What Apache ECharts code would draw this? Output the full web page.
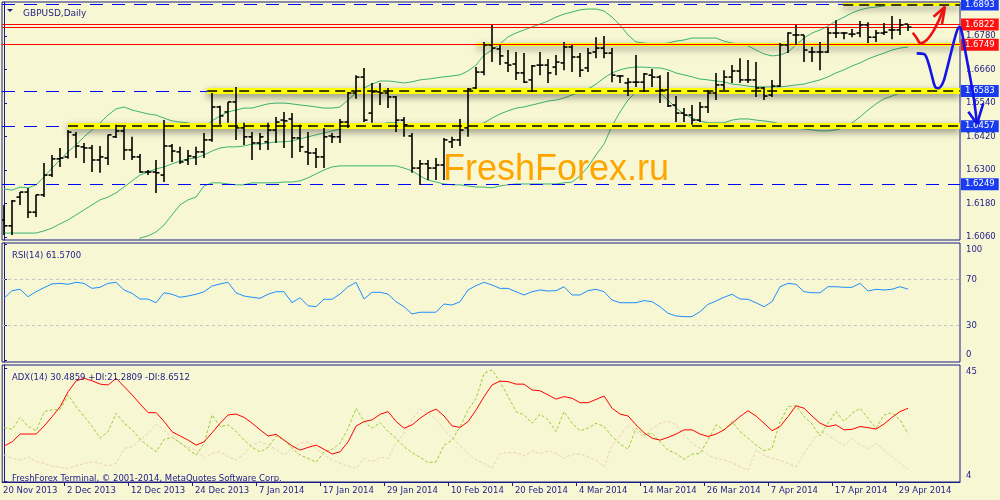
<!DOCTYPE html>
<html><head><meta charset="utf-8">
<script src="https://cdn.jsdelivr.net/npm/echarts@6/dist/echarts.min.js"></script>
<style>html,body{margin:0;padding:0;background:#F7F7D3;}#c{width:1000px;height:500px;}</style>
</head><body><div id="c"></div>
<script>
// ---------- data ----------
const xLabels = ['20 Nov 2013','2 Dec 2013','12 Dec 2013','24 Dec 2013','7 Jan 2014','17 Jan 2014','29 Jan 2014','10 Feb 2014','20 Feb 2014','4 Mar 2014','14 Mar 2014','26 Mar 2014','7 Apr 2014','17 Apr 2014','29 Apr 2014'];
const xLabelIdx = [0,8,16,24,32,40,48,56,64,72,80,88,96,104,112];

const open = [1.6121,1.6100,1.6203,1.6221,1.6149,1.6211,1.6282,1.6340,1.6347,1.6426,
1.6383,1.6379,1.6336,1.6343,1.6419,1.6440,1.6372,1.6347,1.6293,1.6293,
1.6282,1.6386,1.6365,1.6336,1.6347,1.6365,1.6408,1.6526,1.6508,1.6544,
1.6451,1.6419,1.6397,1.6401,1.6443,1.6479,1.6483,1.6415,1.6365,1.6361,
1.6347,1.6422,1.6419,1.6472,1.6576,1.6633,1.6504,1.6580,1.6576,1.6562,
1.6479,1.6422,1.6307,1.6322,1.6307,1.6318,1.6401,1.6408,1.6451,1.6594,
1.6651,1.6748,1.6734,1.6684,1.6680,1.6648,1.6623,1.6676,1.6676,1.6669,
1.6684,1.6741,1.6705,1.6666,1.6723,1.6737,1.6719,1.6637,1.6612,1.6615,
1.6615,1.6640,1.6633,1.6587,1.6533,1.6504,1.6497,1.6479,1.6526,1.6576,
1.6605,1.6633,1.6655,1.6623,1.6623,1.6594,1.6569,1.6601,1.6748,1.6784,
1.6784,1.6723,1.6723,1.6723,1.6791,1.6791,1.6787,1.6791,1.6820,1.6776,
1.6791,1.6802,1.6802,1.6823];
const high = [1.6175,1.6193,1.6221,1.6236,1.6211,1.6325,1.6354,1.6379,1.6443,1.6436,
1.6397,1.6390,1.6386,1.6426,1.6462,1.6454,1.6419,1.6357,1.6300,1.6336,
1.6479,1.6393,1.6383,1.6372,1.6383,1.6433,1.6576,1.6530,1.6544,1.6598,
1.6469,1.6436,1.6433,1.6469,1.6490,1.6508,1.6504,1.6462,1.6436,1.6379,
1.6451,1.6433,1.6483,1.6580,1.6640,1.6666,1.6612,1.6612,1.6594,1.6565,
1.6490,1.6433,1.6336,1.6336,1.6343,1.6415,1.6419,1.6483,1.6594,1.6669,
1.6759,1.6820,1.6748,1.6730,1.6723,1.6719,1.6676,1.6723,1.6698,1.6712,
1.6759,1.6748,1.6719,1.6737,1.6776,1.6780,1.6737,1.6640,1.6630,1.6712,
1.6648,1.6662,1.6640,1.6651,1.6565,1.6522,1.6533,1.6544,1.6587,1.6648,
1.6658,1.6676,1.6701,1.6694,1.6687,1.6598,1.6623,1.6755,1.6794,1.6820,
1.6784,1.6741,1.6759,1.6812,1.6837,1.6794,1.6805,1.6834,1.6830,1.6802,
1.6827,1.6852,1.6841,1.6823];
const low = [1.6067,1.6067,1.6175,1.6128,1.6132,1.6203,1.6275,1.6311,1.6340,1.6343,
1.6325,1.6293,1.6290,1.6318,1.6415,1.6336,1.6336,1.6290,1.6282,1.6218,
1.6257,1.6329,1.6322,1.6318,1.6318,1.6343,1.6401,1.6462,1.6469,1.6408,
1.6390,1.6336,1.6372,1.6372,1.6397,1.6379,1.6343,1.6365,1.6318,1.6307,
1.6307,1.6397,1.6397,1.6451,1.6555,1.6472,1.6469,1.6533,1.6522,1.6436,
1.6419,1.6290,1.6246,1.6264,1.6264,1.6264,1.6379,1.6386,1.6419,1.6590,
1.6640,1.6687,1.6676,1.6651,1.6623,1.6612,1.6580,1.6640,1.6612,1.6640,
1.6658,1.6651,1.6633,1.6651,1.6701,1.6701,1.6615,1.6612,1.6565,1.6598,
1.6580,1.6598,1.6540,1.6526,1.6472,1.6472,1.6462,1.6472,1.6504,1.6551,
1.6587,1.6612,1.6612,1.6612,1.6562,1.6551,1.6562,1.6598,1.6719,1.6748,
1.6687,1.6687,1.6658,1.6719,1.6773,1.6769,1.6776,1.6776,1.6755,1.6759,
1.6784,1.6769,1.6784,1.6798];
const close = [1.6100,1.6189,1.6221,1.6149,1.6211,1.6282,1.6340,1.6343,1.6436,1.6386,
1.6379,1.6336,1.6347,1.6426,1.6440,1.6372,1.6347,1.6293,1.6293,1.6290,
1.6386,1.6368,1.6329,1.6350,1.6365,1.6408,1.6526,1.6494,1.6544,1.6451,
1.6419,1.6397,1.6419,1.6443,1.6472,1.6476,1.6415,1.6383,1.6361,1.6347,
1.6419,1.6419,1.6472,1.6576,1.6633,1.6479,1.6580,1.6576,1.6562,1.6479,
1.6462,1.6307,1.6322,1.6307,1.6318,1.6408,1.6408,1.6443,1.6590,1.6651,
1.6748,1.6737,1.6709,1.6676,1.6648,1.6615,1.6673,1.6676,1.6648,1.6687,
1.6741,1.6705,1.6658,1.6719,1.6737,1.6719,1.6640,1.6637,1.6615,1.6615,
1.6644,1.6633,1.6587,1.6530,1.6504,1.6497,1.6479,1.6526,1.6576,1.6605,
1.6633,1.6655,1.6623,1.6623,1.6594,1.6565,1.6601,1.6748,1.6791,1.6784,
1.6730,1.6723,1.6723,1.6791,1.6791,1.6791,1.6787,1.6820,1.6776,1.6791,
1.6794,1.6802,1.6820,1.6812];

const bbUpper = [1.6232,1.6228,1.6239,1.6236,1.6247,1.6275,1.6307,1.6336,1.6365,1.6390,
1.6419,1.6444,1.6469,1.6497,1.6519,1.6526,1.6515,1.6508,1.6501,1.6497,
1.6486,1.6476,1.6472,1.6469,1.6461,1.6454,1.6476,1.6494,1.6508,1.6515,
1.6522,1.6522,1.6530,1.6537,1.6540,1.6540,1.6537,1.6533,1.6530,1.6526,
1.6522,1.6522,1.6526,1.6551,1.6576,1.6594,1.6608,1.6619,1.6619,1.6616,
1.6612,1.6616,1.6623,1.6626,1.6630,1.6634,1.6637,1.6641,1.6655,1.6676,
1.6712,1.6730,1.6752,1.6777,1.6791,1.6802,1.6813,1.6823,1.6834,1.6848,
1.6859,1.6866,1.6874,1.6877,1.6877,1.6870,1.6848,1.6820,1.6784,1.6759,
1.6755,1.6752,1.6752,1.6755,1.6762,1.6766,1.6773,1.6773,1.6773,1.6773,
1.6762,1.6755,1.6752,1.6745,1.6730,1.6716,1.6709,1.6712,1.6723,1.6748,
1.6773,1.6791,1.6802,1.6816,1.6834,1.6848,1.6863,1.6874,1.6881,1.6884,
1.6888,1.6892,1.6895,1.6899];
const bbMid = [1.6074,1.6074,1.6074,1.6074,1.6074,1.6082,1.6092,1.6107,1.6121,1.6139,
1.6157,1.6175,1.6193,1.6203,1.6218,1.6239,1.6261,1.6282,1.6293,1.6304,
1.6311,1.6322,1.6332,1.6340,1.6343,1.6354,1.6368,1.6379,1.6383,1.6383,
1.6386,1.6393,1.6393,1.6397,1.6401,1.6401,1.6404,1.6412,1.6419,1.6426,
1.6433,1.6440,1.6447,1.6451,1.6454,1.6458,1.6461,1.6465,1.6469,1.6469,
1.6465,1.6461,1.6458,1.6454,1.6451,1.6451,1.6451,1.6454,1.6458,1.6461,
1.6469,1.6486,1.6501,1.6512,1.6522,1.6526,1.6533,1.6540,1.6547,1.6551,
1.6558,1.6569,1.6580,1.6590,1.6608,1.6630,1.6648,1.6659,1.6666,1.6669,
1.6669,1.6666,1.6666,1.6659,1.6648,1.6641,1.6634,1.6626,1.6623,1.6619,
1.6616,1.6608,1.6605,1.6601,1.6598,1.6598,1.6598,1.6598,1.6601,1.6605,
1.6608,1.6616,1.6623,1.6634,1.6648,1.6659,1.6673,1.6684,1.6698,1.6709,
1.6719,1.6730,1.6737,1.6741];
const bbLower = [1.5917,1.5920,1.5910,1.5913,1.5902,1.5888,1.5877,1.5877,1.5877,1.5888,
1.5895,1.5906,1.5917,1.5910,1.5917,1.5953,1.6006,1.6056,1.6064,1.6078,
1.6103,1.6139,1.6175,1.6193,1.6203,1.6243,1.6254,1.6254,1.6250,1.6247,
1.6247,1.6254,1.6254,1.6254,1.6254,1.6257,1.6257,1.6261,1.6272,1.6286,
1.6300,1.6311,1.6315,1.6315,1.6315,1.6315,1.6315,1.6315,1.6315,1.6315,
1.6307,1.6297,1.6279,1.6264,1.6257,1.6250,1.6247,1.6247,1.6243,1.6239,
1.6239,1.6236,1.6243,1.6247,1.6250,1.6250,1.6250,1.6250,1.6250,1.6250,
1.6254,1.6257,1.6279,1.6311,1.6354,1.6393,1.6458,1.6508,1.6551,1.6580,
1.6587,1.6583,1.6576,1.6551,1.6522,1.6501,1.6486,1.6476,1.6469,1.6469,
1.6469,1.6479,1.6483,1.6483,1.6479,1.6476,1.6472,1.6465,1.6458,1.6451,
1.6447,1.6444,1.6440,1.6440,1.6444,1.6451,1.6469,1.6490,1.6515,1.6537,
1.6555,1.6565,1.6576,1.6580];

const rsi = [53.6,60.2,61.4,55.0,59.3,62.8,66.0,66.5,65.7,67.4,
66.5,62.2,63.1,66.5,67.4,60.8,57.9,53.0,53.0,49.8,
58.4,57.1,54.5,55.6,57.1,59.3,64.2,66.0,67.4,58.4,
55.6,54.5,53.6,57.1,59.3,59.3,49.8,54.1,47.2,46.4,
52.8,52.8,57.3,63.6,67.4,53.0,58.8,58.8,57.3,50.7,
46.4,40.1,41.6,41.6,41.6,48.7,47.8,50.7,60.8,64.5,
67.4,65.1,62.2,62.2,59.3,56.5,59.3,60.8,59.9,60.2,
63.6,56.5,56.5,60.2,61.4,59.3,52.2,49.8,49.8,49.8,
51.6,50.7,46.4,40.7,38.4,37.8,37.8,42.1,48.4,51.3,
54.5,57.1,53.0,52.8,49.8,46.4,50.7,63.6,66.5,65.7,
59.3,58.4,58.4,63.6,63.6,63.1,63.1,66.5,59.9,61.4,
60.8,61.4,63.6,61.57];

const adx = [16.9,18.4,21.2,21.2,21.2,24.1,27.5,31.1,36.5,40.4,
41.3,40.4,39.2,38.9,41.3,38.3,35.3,32.0,28.9,28.9,
25.7,22.0,20.5,19.0,17.2,18.4,21.7,25.1,28.1,28.4,
27.2,25.1,22.7,20.5,21.1,19.0,16.9,15.4,16.4,17.2,
15.7,14.0,14.8,18.4,24.1,25.7,26.3,28.3,29.3,25.7,
23.3,24.5,26.9,28.9,30.2,27.7,24.1,23.6,25.7,29.9,
34.7,38.9,40.3,40.1,39.2,39.2,37.1,36.8,35.3,33.8,
34.7,34.1,32.5,32.5,33.7,34.9,30.5,28.4,27.7,24.5,
21.7,19.7,19.0,20.0,21.2,22.7,22.7,21.2,20.3,21.2,
22.7,25.1,27.5,29.6,27.7,25.1,22.4,23.9,27.5,31.4,
30.5,27.7,25.1,23.9,24.5,22.7,22.9,23.9,23.5,23.0,
24.8,27.2,29.3,30.4859];
const plusDI = [23.6,22.9,27.2,23.9,22.4,29.3,29.9,30.1,35.3,31.1,
27.5,23.9,19.7,22.1,28.7,25.1,22.7,19.3,16.9,14.8,
19.3,20.0,18.1,15.7,13.6,17.9,28.1,23.9,24.5,22.1,
19.0,16.4,14.8,16.4,20.5,19.0,16.0,13.6,12.4,11.0,
14.8,15.7,17.9,23.3,30.5,25.7,23.3,25.3,22.1,19.7,
16.6,14.5,12.8,10.9,11.2,17.2,19.0,23.9,29.9,34.1,
43.1,44.3,40.0,34.7,29.3,28.1,25.1,28.4,26.3,22.1,
29.3,25.1,22.4,23.3,25.1,23.9,20.3,17.6,15.7,23.3,
20.9,21.5,18.4,15.4,14.2,12.1,14.0,14.2,19.1,24.5,
22.7,25.7,22.1,19.7,17.2,15.2,16.0,25.7,31.1,31.4,
27.5,24.8,20.5,25.1,29.3,25.7,28.7,30.5,26.9,23.3,
28.1,28.9,26.3,21.2809];
const minusDI = [13.6,12.4,11.8,13.0,11.2,10.6,9.7,9.2,8.8,9.7,
10.6,11.2,10.6,9.7,10.6,16.0,16.6,19.0,21.5,24.8,
22.7,20.0,17.9,16.4,15.4,12.4,14.2,14.8,13.0,11.8,
14.2,17.2,18.4,17.2,15.7,13.6,16.0,17.9,18.4,16.0,
13.6,11.8,10.6,9.7,8.8,12.4,11.2,12.8,12.4,17.9,
21.5,26.5,30.1,28.7,26.5,22.7,20.0,16.9,14.2,11.8,
10.6,8.8,14.1,14.5,14.5,13.3,15.2,14.0,15.2,14.2,
12.4,13.9,14.0,13.0,11.8,9.4,17.2,20.5,24.5,22.1,
20.0,23.3,25.1,25.9,24.5,20.9,17.9,16.0,13.6,12.4,
11.8,10.9,9.4,8.2,15.4,13.6,12.4,11.8,10.6,9.4,
14.2,18.4,22.1,20.9,18.8,17.2,19.7,17.2,16.0,17.9,
15.4,13.0,10.6,8.6512];

const priceTicks = [1.6060,1.6180,1.6300,1.6420,1.6540,1.6660,1.6780];
const rsiTicks = [0,30,70,100];
const rsiLevels = [70,30];
const adxTicks = [4,45];
const blueLevels = [1.6893,1.6583,1.6457,1.6249];
const redLevels = [1.6822,1.6749];
const redLevelPlain = [1.6811];
const bandLevels = [1.6893,1.6749,1.6583,1.6457];
const bandStart = [104.9,59.1,25.4,8.0];
const dashOnBand = [1.6893,1.6583,1.6457];
const redArrowPath = [[113.59,1.6792],[114.0,1.6777],[114.59,1.6754],[115.34,1.6766],[116.13,1.6796],[116.88,1.6838],[117.38,1.6874],[117.63,1.6885]];
const redArrowHead = [[116.19,1.6849],[117.63,1.6885],[117.25,1.6823]];
const blueArrowPath = [[114.09,1.6718],[115.0,1.6716],[115.5,1.6688],[115.96,1.6641],[116.38,1.6599],[116.75,1.6593],[117.34,1.6611],[117.84,1.6659],[118.46,1.6730],[119.09,1.6796],[119.41,1.6812],[119.71,1.6796],[120.13,1.6730],[120.75,1.6635],[121.25,1.6551],[121.59,1.6473]];
const blueArrowHead = [[120.54,1.6509],[121.63,1.6465],[122.41,1.6539]];

// ---------- styles ----------
const NAVY = '#1c1c88';
const FONT = 'DejaVu Sans';
const XMIN = -0.25, XMAX = 119.5, XMAX_OVER = 124.5;
const YMIN = 1.60492, YMAX = 1.69022;
const bandWidths = [3,3,6,6];
const pairs = a => a.map((v,i)=>[i,v]);

function ohlc(params, api){
  const i = api.value(0);
  const o = api.coord([i, api.value(1)]);
  const h = api.coord([i, api.value(2)]);
  const l = api.coord([i, api.value(3)]);
  const c = api.coord([i, api.value(4)]);
  const x = Math.round(h[0]);
  const st = {stroke:'#000', lineWidth:1.6};
  return {type:'group', children:[
    {type:'line', shape:{x1:x,y1:h[1],x2:x,y2:l[1]}, style:st},
    {type:'line', shape:{x1:x-3.5,y1:o[1],x2:x,y2:o[1]}, style:st},
    {type:'line', shape:{x1:x,y1:c[1],x2:x+3.5,y2:c[1]}, style:st}
  ]};
}

const xAxisBase = (g, show, max) => ({type:'value', gridIndex:g, min:XMIN, max:max||XMAX, show:show,
  splitLine:{show:false},
  axisLine:{show:show, lineStyle:{color:NAVY}},
  axisTick:{show:show, length:4, customValues:xLabelIdx.map(i=>i-0.5), lineStyle:{color:NAVY}},
  axisLabel:{show:show, customValues:xLabelIdx.map(i=>i-0.15), align:'left', margin:4,
    color:NAVY, fontSize:8.5, fontFamily:FONT,
    formatter:v=>xLabels[xLabelIdx.indexOf(Math.round(v))] || ''}
});

const yBase = (g, min, max, ticks, fmt, rich) => ({type:'value', gridIndex:g, position:'right', min:min, max:max,
  splitLine:{show:false},
  axisLine:{show:true, lineStyle:{color:NAVY}},
  axisTick:{show:true, length:3, customValues:ticks, lineStyle:{color:NAVY}},
  axisLabel:{customValues:ticks, margin:6, color:NAVY, fontSize:8.5, fontFamily:FONT, formatter:fmt, rich:rich||{}}
});

const labelBox = (bg) => ({show:true, position:'end', distance:1, color:'#fff', backgroundColor:bg,
  padding:[2,4,1,4], fontSize:8.5, fontFamily:FONT});

const gridStyle = {show:true, borderColor:NAVY, borderWidth:1, backgroundColor:'transparent'};
const txt = (size, color) => ({color:color||NAVY, fontSize:size, fontWeight:'normal', fontFamily:FONT});

const option = {
  animation:false,
  backgroundColor:'#F7F7D3',
  title:[
    {text:'GBPUSD,Daily', left:18, top:4, textStyle:txt(9)},
    {text:'RSI(14) 61.5700', left:7, top:246, textStyle:txt(8.5)},
    {text:'ADX(14) 30.4859 +DI:21.2809 -DI:8.6512', left:7, top:368, textStyle:txt(8.5)},
    {text:'FreshForex Terminal, © 2001-2014, MetaQuotes Software Corp.', left:7, top:469, textStyle:txt(8.5)},
    {text:'FreshForex.ru', left:438, top:147, textStyle:{color:'#FFA500', fontSize:36, fontWeight:'normal', fontFamily:'Liberation Sans'}, z:10}
  ],
  graphic:[{type:'polygon', shape:{points:[[7,9],[13,9],[10,12]]}, style:{fill:NAVY}}],
  grid:[
    Object.assign({left:2, top:2, width:958, height:238}, gridStyle),
    Object.assign({left:2, top:243, width:958, height:119}, gridStyle),
    Object.assign({left:2, top:365, width:958, height:117}, gridStyle),
    {left:2, top:2, width:998, height:238, show:false}
  ],
  xAxis:[xAxisBase(0,false), xAxisBase(1,false), xAxisBase(2,true), xAxisBase(3,false,XMAX_OVER)],
  yAxis:[
    yBase(0, YMIN, YMAX, priceTicks, v=>v.toFixed(4)),
    yBase(1, -1.3, 101.3, rsiTicks, v=> v===100 ? '{d|100}' : (v===0 ? '{u|0}' : String(v)),
      {d:{padding:[11,0,0,0], color:NAVY, fontSize:8.5, fontFamily:FONT}, u:{padding:[0,0,11,0], color:NAVY, fontSize:8.5, fontFamily:FONT}}),
    yBase(2, 3.9, 46.1, adxTicks, v=> v===45 ? '{d|45}' : '{u|4}',
      {d:{padding:[7,0,0,0], color:NAVY, fontSize:8.5, fontFamily:FONT}, u:{padding:[0,0,12,0], color:NAVY, fontSize:8.5, fontFamily:FONT}}),
    {type:'value', gridIndex:3, min:YMIN, max:YMAX, show:false}
  ],
  series:[
    {name:'blueLevels', type:'line', xAxisIndex:0, yAxisIndex:0, data:[], z:1, silent:true,
      markLine:{silent:true, precision:4, symbol:['none','none'], animation:false,
        lineStyle:{color:'#0000ff', width:1, type:[13,9]},
        label:labelBox('#1a3cf0'),
        data: blueLevels.map(v=>({yAxis:v, label:{formatter:v.toFixed(4)}}))}},
    {name:'bands', type:'line', xAxisIndex:0, yAxisIndex:0, data:[], z:2, silent:true,
      markLine:{silent:true, precision:4, symbol:['none','none'], animation:false, label:{show:false},
        data: bandLevels.map((v,k)=>[
          {coord:[bandStart[k], v], lineStyle:{color:'#ffff00', width:bandWidths[k], type:'solid',
            shadowColor:'rgba(40,40,40,0.55)', shadowBlur:7, shadowOffsetY:3}},
          {coord:[XMAX, v]}])}},
    {name:'bandDash', type:'line', xAxisIndex:0, yAxisIndex:0, data:[], z:3, silent:true,
      markLine:{silent:true, precision:4, symbol:['none','none'], animation:false, label:{show:false},
        lineStyle:{color:'#000', width:1.5, type:[10,6]},
        data: dashOnBand.map(v=>[{coord:[bandStart[bandLevels.indexOf(v)], v]},{coord:[XMAX, v]}])}},
    {name:'redLevels', type:'line', xAxisIndex:0, yAxisIndex:0, data:[], z:3, silent:true,
      markLine:{silent:true, precision:4, symbol:['none','none'], animation:false,
        lineStyle:{color:'#ff0000', width:1, type:'solid'},
        label:labelBox('#ff1010'),
        data: redLevels.map(v=>({yAxis:v, label:{formatter:v.toFixed(4)}}))
          .concat(redLevelPlain.map(v=>({yAxis:v, label:{show:false}})))}},
    {name:'BB upper', type:'line', xAxisIndex:0, yAxisIndex:0, data:pairs(bbUpper), symbol:'none', z:4, silent:true,
      lineStyle:{color:'#3CB371', width:1}},
    {name:'BB mid', type:'line', xAxisIndex:0, yAxisIndex:0, data:pairs(bbMid), symbol:'none', z:4, silent:true,
      lineStyle:{color:'#3CB371', width:1}},
    {name:'BB lower', type:'line', xAxisIndex:0, yAxisIndex:0, data:pairs(bbLower), symbol:'none', z:4, silent:true,
      lineStyle:{color:'#3CB371', width:1}},
    {name:'GBPUSD', type:'custom', xAxisIndex:0, yAxisIndex:0, renderItem:ohlc, clip:true, z:5, silent:true,
      encode:{x:0, y:[1,2,3,4]},
      data: open.map((o,i)=>[i, o, high[i], low[i], close[i]])},
    {name:'redArrow', type:'line', xAxisIndex:3, yAxisIndex:3, data:redArrowPath, smooth:0.35, symbol:'none', clip:false, z:6, silent:true,
      lineStyle:{color:'#ee1111', width:2.6}},
    {name:'redArrowHead', type:'line', xAxisIndex:3, yAxisIndex:3, data:redArrowHead, symbol:'none', clip:false, z:6, silent:true,
      lineStyle:{color:'#ee1111', width:2.6}},
    {name:'blueArrow', type:'line', xAxisIndex:3, yAxisIndex:3, data:blueArrowPath, smooth:0.35, symbol:'none', clip:false, z:6, silent:true,
      lineStyle:{color:'#1414e6', width:2.6}},
    {name:'blueArrowHead', type:'line', xAxisIndex:3, yAxisIndex:3, data:blueArrowHead, symbol:'none', clip:false, z:6, silent:true,
      lineStyle:{color:'#1414e6', width:2.6}},
    {name:'RSI', type:'line', xAxisIndex:1, yAxisIndex:1, data:pairs(rsi), symbol:'none', z:4, silent:true,
      lineStyle:{color:'#1E90FF', width:1},
      markLine:{silent:true, symbol:['none','none'], animation:false, label:{show:false},
        lineStyle:{color:'#c4c4c4', width:1, type:[3,3]},
        data: rsiLevels.map(v=>({yAxis:v}))}},
    {name:'ADX', type:'line', xAxisIndex:2, yAxisIndex:2, data:pairs(adx), symbol:'none', z:5, silent:true,
      lineStyle:{color:'#ff0000', width:1}},
    {name:'+DI', type:'line', xAxisIndex:2, yAxisIndex:2, data:pairs(plusDI), symbol:'none', z:4, silent:true,
      lineStyle:{color:'#9ACD32', width:1, type:[3,2]}},
    {name:'-DI', type:'line', xAxisIndex:2, yAxisIndex:2, data:pairs(minusDI), symbol:'none', z:3, silent:true,
      lineStyle:{color:'#F0CDB5', width:1, type:[3,2]}}
  ]
};
const chart = echarts.init(document.getElementById('c'), null, {renderer:'canvas'});
chart.setOption(option);
</script>
</body></html>
